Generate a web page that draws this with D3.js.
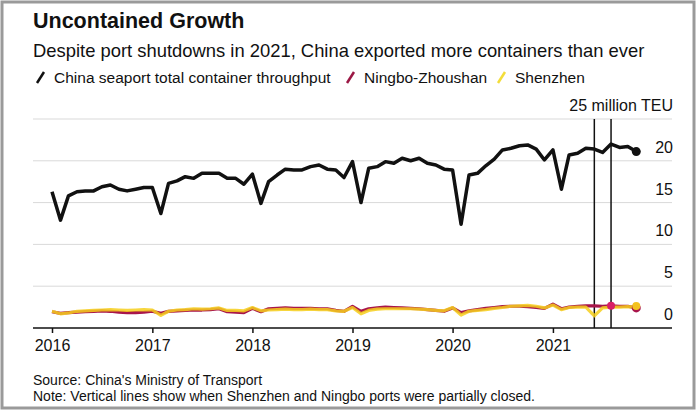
<!DOCTYPE html>
<html>
<head>
<meta charset="utf-8">
<script src="https://cdn.jsdelivr.net/npm/d3@7"></script>
<style>
  body { margin: 0; background: #fff; }
  svg { display: block; font-family: "Liberation Sans", Arial, sans-serif; }
</style>
</head>
<body>
<div id="chart"></div>
<script>
// monthly values, Jan 2016 - Nov 2021 (million TEU)
var china = [16.3, 12.9, 15.8, 16.3, 16.4, 16.4, 16.9, 17.1, 16.6, 16.4, 16.6, 16.8,
  16.8, 13.7, 17.3, 17.6, 18.1, 17.9, 18.5, 18.5, 18.5, 17.9, 17.9, 17.2,
  18.4, 14.9, 17.5, 18.3, 19.0, 18.9, 18.9, 19.3, 19.5, 19.0, 18.9, 18.0,
  19.9, 15.0, 19.1, 19.3, 19.9, 19.7, 20.3, 20.0, 20.3, 19.7, 19.5, 19.0,
  18.9, 12.4, 18.3, 18.5, 19.4, 20.2, 21.3, 21.5, 21.8, 21.9, 21.4, 20.1,
  21.3, 16.6, 20.7, 20.9, 21.5, 21.4, 21.0, 22.0, 21.6, 21.7, 21.1];
var ningbo = [1.95, 1.75, 1.85, 1.9, 1.95, 2.0, 2.05, 2.0, 1.9, 1.85, 1.85, 1.9,
  2.0, 1.75, 2.0, 2.05, 2.1, 2.15, 2.15, 2.2, 2.3, 1.95, 1.9, 1.85,
  2.35, 1.95, 2.3, 2.35, 2.4, 2.35, 2.35, 2.35, 2.3, 2.3, 2.1, 2.0,
  2.6, 2.0, 2.3, 2.4, 2.5, 2.45, 2.4, 2.35, 2.3, 2.2, 2.1, 2.0,
  2.4, 1.85, 2.05, 2.2, 2.35, 2.45, 2.55, 2.6, 2.6, 2.55, 2.45, 2.35,
  2.85, 2.3, 2.5, 2.6, 2.65, 2.65, 2.6, 2.65, 2.6, 2.6, 2.4];
var shenzhen = [2.0, 1.7, 1.8, 2.0, 2.05, 2.1, 2.15, 2.2, 2.15, 2.1, 2.15, 2.2,
  2.15, 1.5, 2.0, 2.15, 2.2, 2.3, 2.25, 2.3, 2.4, 2.1, 2.1, 2.05,
  2.45, 2.05, 2.15, 2.2, 2.25, 2.2, 2.2, 2.25, 2.2, 2.2, 2.05, 2.0,
  2.45, 1.7, 2.1, 2.25, 2.3, 2.3, 2.3, 2.3, 2.25, 2.2, 2.1, 2.05,
  2.45, 1.55, 2.0, 2.1, 2.2, 2.35, 2.45, 2.6, 2.65, 2.7, 2.6, 2.4,
  2.75, 2.2, 2.45, 2.5, 2.5, 1.45, 2.4, 2.5, 2.5, 2.55, 2.5];
var months = d3.timeMonth.range(new Date(2016, 0, 1), new Date(2021, 11, 1));
var yTicks = [0, 5, 10, 15, 20, 25];
var xTicks = [2016, 2017, 2018, 2019, 2020, 2021];
var closures = [new Date(2021, 5, 1), new Date(2021, 7, 1)];

var W = 700, H = 414;
var svg = d3.select("#chart").append("svg")
  .attr("width", W)
  .attr("height", H);

svg.append("rect")
  .attr("x", 2).attr("y", 2)
  .attr("width", 692).attr("height", 406)
  .attr("fill", "#fff")
  .attr("stroke", "#9a9a9a")
  .attr("stroke-width", 3);

svg.append("text")
  .attr("x", 33).attr("y", 28)
  .style("font-size", "21.5px").style("font-weight", "bold")
  .attr("fill", "#111")
  .text("Uncontained Growth");
svg.append("text")
  .attr("x", 33).attr("y", 57)
  .style("font-size", "18.4px")
  .attr("fill", "#111")
  .text("Despite port shutdowns in 2021, China exported more containers than ever");

// legend
var legend = [
  {name: "China seaport total container throughput", color: "#111", x: 37},
  {name: "Ningbo-Zhoushan", color: "#9b1744", x: 347},
  {name: "Shenzhen", color: "#f3dd3a", x: 498}
];
var lg = svg.selectAll(".lg").data(legend).enter().append("g")
  .attr("transform", function (d) { return "translate(" + d.x + ",83)"; });
lg.append("line")
  .attr("x1", 0).attr("y1", 0).attr("x2", 7).attr("y2", -11)
  .attr("stroke", function (d) { return d.color; })
  .attr("stroke-width", 2.5);
lg.append("text")
  .attr("x", 17).attr("y", 0)
  .style("font-size", "15.5px")
  .attr("fill", "#111")
  .text(function (d) { return d.name; });

var x = d3.scaleTime()
  .domain([new Date(2016, 0, 1), new Date(2022, 0, 1)])
  .range([52, 653]);
var y = d3.scaleLinear().domain([0, 25]).range([328, 119]);

// gridlines
svg.selectAll(".grid").data(yTicks.slice(1)).enter().append("line")
  .attr("x1", 33).attr("x2", 672)
  .attr("y1", function (d) { return y(d); })
  .attr("y2", function (d) { return y(d); })
  .attr("stroke", "#d9d9d9").attr("stroke-width", 1);

svg.selectAll(".ylab").data(yTicks).enter().append("text")
  .attr("x", 673)
  .attr("y", function (d) { return y(d) - 8; })
  .attr("text-anchor", "end")
  .style("font-size", "16px")
  .attr("fill", "#111")
  .text(function (d) { return d === 25 ? "25 million TEU" : d; });

// x axis
var xAxis = svg.append("g")
  .attr("transform", "translate(0," + y(0) + ")")
  .call(d3.axisBottom(x)
    .tickValues(xTicks.map(function (d) { return new Date(d, 0, 1); }))
    .tickSize(5).tickPadding(7)
    .tickFormat(d3.timeFormat("%Y")));
xAxis.select(".domain").remove();
xAxis.selectAll(".tick line").attr("stroke", "#111").attr("stroke-width", 1.5);
xAxis.selectAll(".tick text")
  .style("font-size", "16px")
  .style("font-family", "Liberation Sans, Arial, sans-serif")
  .attr("fill", "#111");
svg.append("line")
  .attr("x1", 33).attr("x2", 672)
  .attr("y1", y(0)).attr("y2", y(0))
  .attr("stroke", "#111").attr("stroke-width", 1.5);

// closure lines
svg.selectAll(".closure").data(closures).enter().append("line")
  .attr("x1", function (d) { return x(d); })
  .attr("x2", function (d) { return x(d); })
  .attr("y1", y(25)).attr("y2", y(0))
  .attr("stroke", "#111").attr("stroke-width", 1.5);

function series(vals) {
  return vals.map(function (v, i) { return {date: months[i], value: v}; });
}
var line = d3.line()
  .x(function (d) { return x(d.date); })
  .y(function (d) { return y(d.value); });

svg.append("path")
  .datum(series(ningbo))
  .attr("d", line)
  .attr("fill", "none")
  .attr("stroke", "#a8154b").attr("stroke-width", 3.2)
  .attr("stroke-linejoin", "round");
svg.append("path")
  .datum(series(shenzhen))
  .attr("d", line)
  .attr("fill", "none")
  .attr("stroke", "#f6cf1c").attr("stroke-width", 3.2)
  .attr("stroke-opacity", 0.85)
  .attr("stroke-linejoin", "round");
svg.append("path")
  .datum(series(china))
  .attr("d", line)
  .attr("fill", "none")
  .attr("stroke", "#111").attr("stroke-width", 3.5)
  .attr("stroke-linejoin", "round");

var last = months.length - 1;
svg.append("circle")
  .attr("cx", x(months[last])).attr("cy", y(china[last]))
  .attr("r", 4.5).attr("fill", "#111");
svg.append("circle")
  .attr("cx", x(months[last])).attr("cy", y(ningbo[last]))
  .attr("r", 4.5).attr("fill", "#a8154b");
svg.append("circle")
  .attr("cx", x(months[last])).attr("cy", y(shenzhen[last]) - 1)
  .attr("r", 4).attr("fill", "#f3c21e");
var aug = months.findIndex(function (d) { return +d === +closures[1]; });
svg.append("circle")
  .attr("cx", x(months[aug])).attr("cy", y(ningbo[aug]))
  .attr("r", 4).attr("fill", "#d81f66");

// footer
svg.append("text")
  .attr("x", 33).attr("y", 385)
  .style("font-size", "14px")
  .attr("fill", "#111")
  .text("Source: China's Ministry of Transport");
svg.append("text")
  .attr("x", 33).attr("y", 401)
  .style("font-size", "14px")
  .attr("fill", "#111")
  .text("Note: Vertical lines show when Shenzhen and Ningbo ports were partially closed.");
</script>
</body>
</html>
